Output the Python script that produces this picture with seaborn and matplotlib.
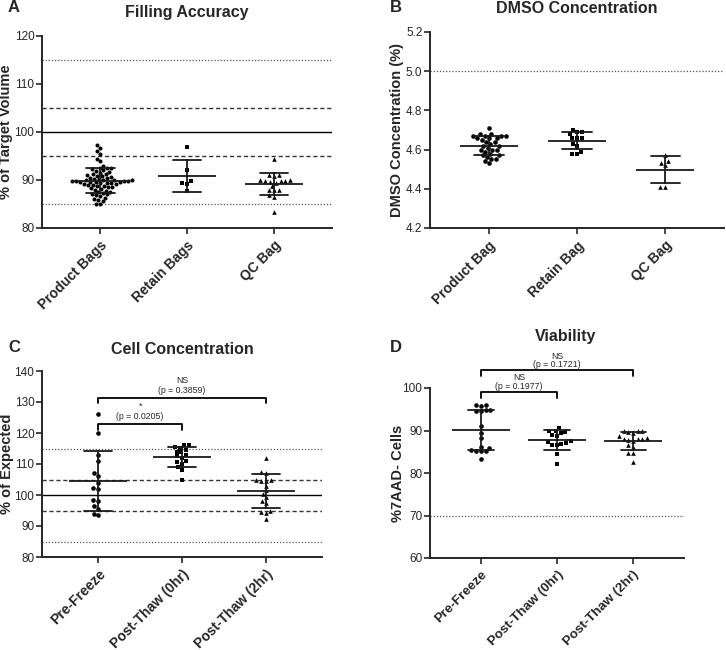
import numpy as np
import pandas as pd
import matplotlib
matplotlib.use("Agg")
import matplotlib.pyplot as plt
import seaborn as sns

# -----------------------------
# Data
# -----------------------------
fill_cats = ["Product Bags", "Retain Bags", "QC Bag"]
fill_product = [97.2, 96.7, 96.0, 95.4, 94.4, 93.9, 93.0, 92.6, 92.5, 92.4, 92.2, 92.0,
                91.9, 91.7, 91.5, 91.3, 91.2, 91.0, 90.9, 90.8, 90.6, 90.5, 90.4, 90.3,
                90.2, 90.1, 90.0, 89.9, 89.9, 89.8, 89.8, 89.7, 89.7, 89.6, 89.6, 89.5,
                89.5, 89.4, 89.4, 89.3, 89.2, 89.1, 89.0, 88.9, 88.8, 88.7, 88.6, 88.5,
                88.3, 88.2, 88.0, 87.8, 87.6, 87.5, 87.3, 87.1, 87.0, 86.8, 86.6, 86.3,
                86.0, 85.8, 85.6, 85.0, 84.9]
fill_retain = [96.9, 92.1, 89.8, 89.3, 89.2, 87.8]
fill_qc = [94.4, 91.1, 91.0, 90.9, 90.0, 89.9, 89.8, 89.8, 89.7, 89.6, 89.3, 88.8,
           88.0, 87.9, 88.0, 86.9, 86.5, 83.3]

dmso_cats = ["Product Bag", "Retain Bag", "QC Bag"]
dmso_product = [4.71, 4.68, 4.68, 4.67, 4.67, 4.67, 4.67, 4.66, 4.66, 4.66, 4.65, 4.64,
                4.64, 4.63, 4.62, 4.62, 4.61, 4.60, 4.60, 4.60, 4.59, 4.58, 4.57, 4.57,
                4.56, 4.55, 4.55, 4.54, 4.53]
dmso_retain = [4.70, 4.69, 4.69, 4.68, 4.66, 4.66, 4.66, 4.63, 4.62, 4.59, 4.58, 4.58]
dmso_qc = [4.57, 4.54, 4.53, 4.52, 4.41, 4.41]

time_cats = ["Pre-Freeze", "Post-Thaw (0hr)", "Post-Thaw (2hr)"]
conc_pre = [126, 120, 112.9, 110.9, 107, 106.1, 104, 102.2, 102, 98.4, 98.2, 96.3,
            95.4, 94, 93.6]
conc_0hr = [116, 116, 115.5, 115.2, 114.5, 114, 113.8, 113, 112.5, 112, 111, 110.5,
            110, 109, 108, 105]
conc_2hr = [111.8, 107.4, 107.2, 104.8, 104.6, 104.5, 104.7, 103, 101.5, 100.3, 99.2,
            98, 97.3, 95, 94.6, 94.3, 92.4]

via_pre = [96, 96, 95.8, 94.8, 94.8, 94.7, 94.6, 91.1, 89.5, 88.2, 86.2, 86, 85.3,
           85.2, 85.2, 85.1, 83.4]
via_0hr = [90.7, 89.9, 89.8, 89.6, 89.5, 89.0, 88.8, 87.5, 87.0, 87.2, 86.9, 86.7,
           86.5, 84.5, 82.1]
via_2hr = [89.9, 89.9, 89.8, 89.7, 89.4, 88.6, 88.2, 88.1, 88.0, 87.9, 87.8, 87.6,
           86.5, 86.2, 84.7, 84.6, 82.5]

markers = ["o", "s", "^"]

# -----------------------------
# Style
# -----------------------------
sns.set_style("ticks")
plt.rcParams["font.family"] = ["Liberation Sans", "DejaVu Sans"]
plt.rcParams["axes.linewidth"] = 1.4
plt.rcParams["xtick.major.width"] = 1.2
plt.rcParams["ytick.major.width"] = 1.2
plt.rcParams["xtick.major.size"] = 4
plt.rcParams["ytick.major.size"] = 4

W, H = 726, 650
fig = plt.figure(figsize=(W / 100, H / 100), dpi=100)


def make_ax(left, top, right, bottom):
    return fig.add_axes([left / W, 1 - bottom / H, (right - left) / W, (bottom - top) / H])


def long_df(cats, groups):
    return pd.DataFrame({
        "group": np.repeat(cats, [len(g) for g in groups]),
        "value": np.concatenate(groups),
    })


def draw_panel(ax, cats, groups, size=3.3, xfs=10):
    df = long_df(cats, groups)
    for cat, m in zip(cats, markers):
        sub = df[df["group"] == cat]
        s = size if len(sub) < 40 else size - 0.4
        sns.swarmplot(data=sub, x="group", y="value", order=cats,
                      marker=m, color="black", size=s, ax=ax, zorder=3)
    sns.pointplot(data=df, x="group", y="value", order=cats, errorbar="sd",
                  capsize=0.33, linestyle="none", marker="_", markersize=42,
                  markeredgewidth=1.3, color="#1a1a1a",
                  err_kws={"linewidth": 1.3}, ax=ax, zorder=4)
    ax.set_xlim(-0.67, 2.67)
    ax.set_xlabel("")
    ax.set_xticks(range(len(cats)))
    ax.set_xticklabels(cats, rotation=45, ha="right", rotation_mode="anchor",
                       fontsize=xfs, fontweight="bold")
    ax.tick_params(axis="y", labelsize=8.5, pad=1.5)
    sns.despine(ax=ax)


def ref_lines(ax):
    ax.axhline(100, color="black", lw=1.0, zorder=1)
    for v in (95, 105):
        ax.axhline(v, color="#333333", lw=1.0, ls=(0, (3, 2)), zorder=1)
    for v in (85, 115):
        ax.axhline(v, color="#555555", lw=0.9, ls=(0, (1, 1.5)), zorder=1)


def bracket(ax, x0, x1, y_top, y_end, lines, text_y):
    ax.plot([x0, x0, x1, x1], [y_end, y_top, y_top, y_end], color="black", lw=1.3,
            clip_on=False)
    for txt, ty in zip(lines, text_y):
        ax.text((x0 + x1) / 2, ty, txt, ha="center", va="center", fontsize=6.3)


def ylabel(ax, text, x):
    ax.set_ylabel(text, fontsize=10.5, fontweight="bold")
    ax.yaxis.set_label_coords(x, 0.5)


# -----------------------------
# A - Filling Accuracy
# -----------------------------
axA = make_ax(42, 36, 332, 228)
ref_lines(axA)
draw_panel(axA, fill_cats, [fill_product, fill_retain, fill_qc])
axA.set_ylim(80, 120)
axA.set_yticks(range(80, 121, 10))
ylabel(axA, "% of Target Volume", -0.1)
axA.set_title("Filling Accuracy", fontsize=11.5, fontweight="bold", pad=14)

# -----------------------------
# B - DMSO Concentration
# -----------------------------
axB = make_ax(430, 32, 724, 228)
axB.axhline(5.0, color="#555555", lw=0.9, ls=(0, (1, 1.5)), zorder=1)
draw_panel(axB, dmso_cats, [dmso_product, dmso_retain, dmso_qc])
axB.set_ylim(4.2, 5.2)
axB.set_yticks(np.round(np.arange(4.2, 5.21, 0.2), 1))
axB.set_yticklabels(["4.2", "4.4", "4.6", "4.8", "5.0", "5.2"])
ylabel(axB, "DMSO Concentration (%)", -0.088)
axB.set_title("DMSO Concentration", fontsize=11.5, fontweight="bold", pad=14)

# -----------------------------
# C - Cell Concentration
# -----------------------------
axC = make_ax(42, 371, 322, 557)
ref_lines(axC)
draw_panel(axC, time_cats, [conc_pre, conc_0hr, conc_2hr])
axC.set_ylim(80, 140)
axC.set_yticks(range(80, 141, 10))
ylabel(axC, "% of Expected", -0.1)
axC.set_title("Cell Concentration", fontsize=11.5, fontweight="bold", pad=12)
bracket(axC, 0, 2, 131.3, 129.7, ["NS", "(p = 0.3859)"], [136.8, 133.6])
bracket(axC, 0, 1, 122.9, 121.0, ["*", "(p = 0.0205)"], [128.5, 125.3])

# -----------------------------
# D - Viability
# -----------------------------
axD = make_ax(430, 388, 684, 558)
axD.axhline(70, color="#555555", lw=0.9, ls=(0, (1, 1.5)), zorder=1)
draw_panel(axD, time_cats, [via_pre, via_0hr, via_2hr], xfs=9.6)
axD.set_ylim(60, 100)
axD.set_yticks(range(60, 101, 10))
ylabel(axD, "%7AAD- Cells", -0.1)
bracket(axD, 0, 2, 104.2, 102.8, ["NS", "(p = 0.1721)"], [107.5, 105.6])
bracket(axD, 0, 1, 99.1, 97.6, ["NS", "(p = 0.1977)"], [102.4, 100.3])
fig.text(566 / W, 1 - 337 / H, "Viability", fontsize=11.5, fontweight="bold",
         ha="center", va="center")

# panel letters
for lab, (px, py) in zip("ABCD", [(8, 8), (390, 8), (8, 347), (390, 347)]):
    fig.text(px / W, 1 - py / H, lab, fontsize=12, fontweight="bold",
             ha="left", va="center")

fig.savefig("out.png", dpi=100)
